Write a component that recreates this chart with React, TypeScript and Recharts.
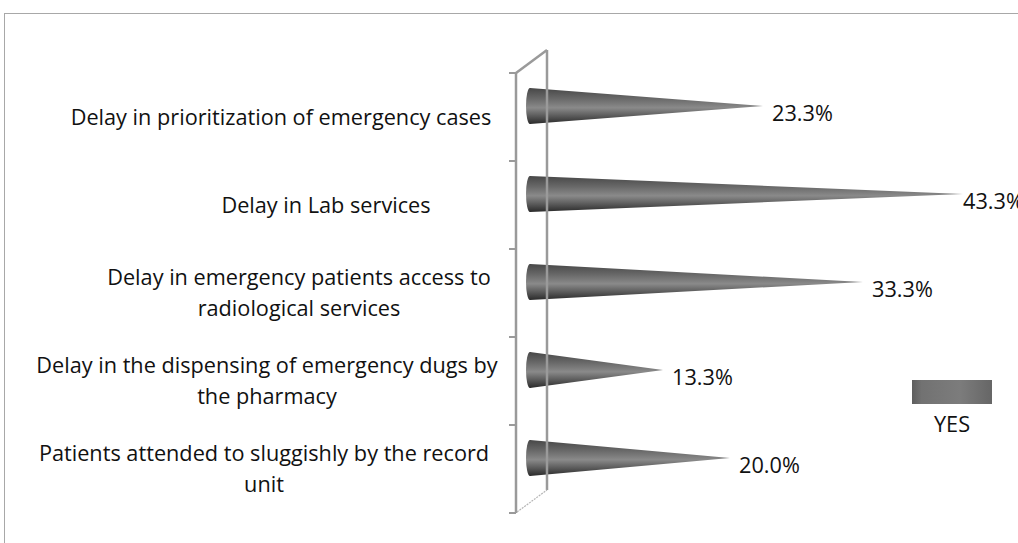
import React from 'react';
import { BarChart, Bar, XAxis, YAxis, LabelList, Legend } from 'recharts';

const categories: string[] = [
  'Delay in prioritization of emergency cases',
  'Delay in Lab services',
  'Delay in emergency patients access to radiological services',
  'Delay in the dispensing of emergency dugs by the pharmacy',
  'Patients attended to sluggishly by the record unit',
];
const yesValues: number[] = [23.3, 43.3, 33.3, 13.3, 20.0];
const seriesName = 'YES';

// layout constants (not data)
const W = 1018;
const H = 543;
const MARGIN = { top: 73, right: 38, bottom: 30, left: 0 };
const Y_AXIS_W = 516;
const labelCenterX = [281, 326, 299, 267, 264];
const FONT = "'Open Sans', sans-serif";
const FONT_SIZE = 21.7;
const LINE_H = 31;
const DEPTH_X = 31;
const DEPTH_Y = -23;
const CONE_SHIFT = -11;
const AXIS_COLOR = '#9a9a9a';
const LABEL_MAX_START = W - 56;

const data = categories.map((name, i) => ({ name, yes: yesValues[i] }));

function wrap(text: string, max = 45): string[] {
  const words = text.split(' ');
  const lines: string[] = [];
  let cur = '';
  for (const w of words) {
    const next = cur ? cur + ' ' + w : w;
    if (next.length > max && cur) {
      lines.push(cur);
      cur = w;
    } else cur = next;
  }
  if (cur) lines.push(cur);
  return lines;
}

const plotH = H - MARGIN.top - MARGIN.bottom;
const band = plotH / categories.length;
const frontX = Y_AXIS_W;

const CategoryTick = (props: any) => {
  const { y, payload, index } = props;
  const lines = wrap(String(payload.value));
  const cx = labelCenterX[index] ?? 280;
  const top = y - band / 2;
  const bottom = y + band / 2;
  const isFirst = index === 0;
  const isLast = index === categories.length - 1;
  const startY = y - ((lines.length - 1) * LINE_H) / 2;
  return (
    <g>
      <line x1={frontX} y1={top} x2={frontX} y2={bottom} stroke={AXIS_COLOR} strokeWidth={2.5} />
      <line x1={frontX - 7} y1={top} x2={frontX} y2={top} stroke={AXIS_COLOR} strokeWidth={2} />
      {isLast && <line x1={frontX - 7} y1={bottom} x2={frontX} y2={bottom} stroke={AXIS_COLOR} strokeWidth={2} />}
      <line x1={frontX + DEPTH_X} y1={top + DEPTH_Y} x2={frontX + DEPTH_X} y2={bottom + DEPTH_Y} stroke={AXIS_COLOR} strokeWidth={2.5} />
      {isFirst && (
        <line x1={frontX} y1={top} x2={frontX + DEPTH_X} y2={top + DEPTH_Y} stroke={AXIS_COLOR} strokeWidth={2.5} />
      )}
      {isLast && (
        <line x1={frontX + 1} y1={bottom - 1} x2={frontX + DEPTH_X} y2={bottom + DEPTH_Y} stroke="#b5b5b5" strokeWidth={1.2} strokeDasharray="2 1" />
      )}
      <text x={cx} y={startY} textAnchor="middle" fontFamily={FONT} fontSize={FONT_SIZE} fill="#111">
        {lines.map((l, i) => (
          <tspan key={i} x={cx} y={startY + i * LINE_H} dy="0.35em">
            {l}
          </tspan>
        ))}
      </text>
    </g>
  );
};

const ConeShape = (props: any) => {
  const { x, y, width, height } = props;
  if (width <= 0) return null;
  const cy = y + height / 2 + CONE_SHIFT;
  const h = height;
  const tip = x + width;
  const d = `M ${x} ${cy - h / 2} L ${tip} ${cy} L ${x} ${cy + h / 2} Z`;
  return (
    <g>
      <path d={d} fill="url(#coneGrad)" />
      <ellipse cx={x} cy={cy} rx={4} ry={h / 2} fill="url(#coneGrad)" />
    </g>
  );
};

const ValueLabel = (props: any) => {
  const { x, y, width, height, value } = props;
  const tip = x + width;
  const start = Math.max(tip, Math.min(tip + 9, LABEL_MAX_START));
  return (
    <text
      x={start}
      y={y + height / 2 - 4}
      dy="0.35em"
      fontFamily={FONT}
      fontSize={FONT_SIZE}
      fill="#111"
    >
      {`${Number(value).toFixed(1)}%`}
    </text>
  );
};

const LegendContent = () => (
  <div style={{ width: 80, textAlign: 'center', fontFamily: FONT, fontSize: FONT_SIZE, color: '#111' }}>
    <svg width={80} height={24} style={{ display: 'block' }}>
      <defs>
        <linearGradient id="legGrad" x1="0" y1="0" x2="1" y2="0">
          <stop offset="0%" stopColor="#5e5e5e" />
          <stop offset="12%" stopColor="#727272" />
          <stop offset="60%" stopColor="#7c7c7c" />
          <stop offset="100%" stopColor="#666666" />
        </linearGradient>
      </defs>
      <rect x={0} y={0} width={80} height={24} fill="url(#legGrad)" />
    </svg>
    <div style={{ marginTop: 7, lineHeight: '26px' }}>{seriesName}</div>
  </div>
);

export default function App() {
  return (
    <div style={{ position: 'absolute', left: 0, top: 0, width: W, height: H, background: '#fff', overflow: 'hidden' }}>
      <div
        style={{
          position: 'absolute',
          left: 4,
          top: 13,
          width: W,
          height: H,
          borderLeft: '1.5px solid #a8a8a8',
          borderTop: '1.5px solid #a8a8a8',
        }}
      />
      <div style={{ position: 'absolute', left: 0, top: 0 }}>
        <BarChart width={W} height={H} data={data} layout="vertical" margin={MARGIN} barCategoryGap={0}>
          <defs>
            <linearGradient id="coneGrad" x1="0" y1="0" x2="0" y2="1">
              <stop offset="0%" stopColor="#474747" />
              <stop offset="30%" stopColor="#696969" />
              <stop offset="55%" stopColor="#8a8a8a" />
              <stop offset="78%" stopColor="#5a5a5a" />
              <stop offset="100%" stopColor="#2a2a2a" />
            </linearGradient>
          </defs>
          <XAxis type="number" domain={[0, 45]} hide padding={{ left: 14, right: 0 }} />
          <YAxis
            type="category"
            dataKey="name"
            width={Y_AXIS_W}
            axisLine={false}
            tickLine={false}
            tick={<CategoryTick />}
            interval={0}
          />
          <Legend
            layout="horizontal"
            align="center"
            verticalAlign="middle"
            content={<LegendContent />}
            wrapperStyle={{ position: 'absolute', left: 912, top: 380, width: 80 }}
          />
          <Bar dataKey="yes" name={seriesName} barSize={36} shape={<ConeShape />} isAnimationActive={false}>
            <LabelList dataKey="yes" content={<ValueLabel />} />
          </Bar>
        </BarChart>
      </div>
    </div>
  );
}
